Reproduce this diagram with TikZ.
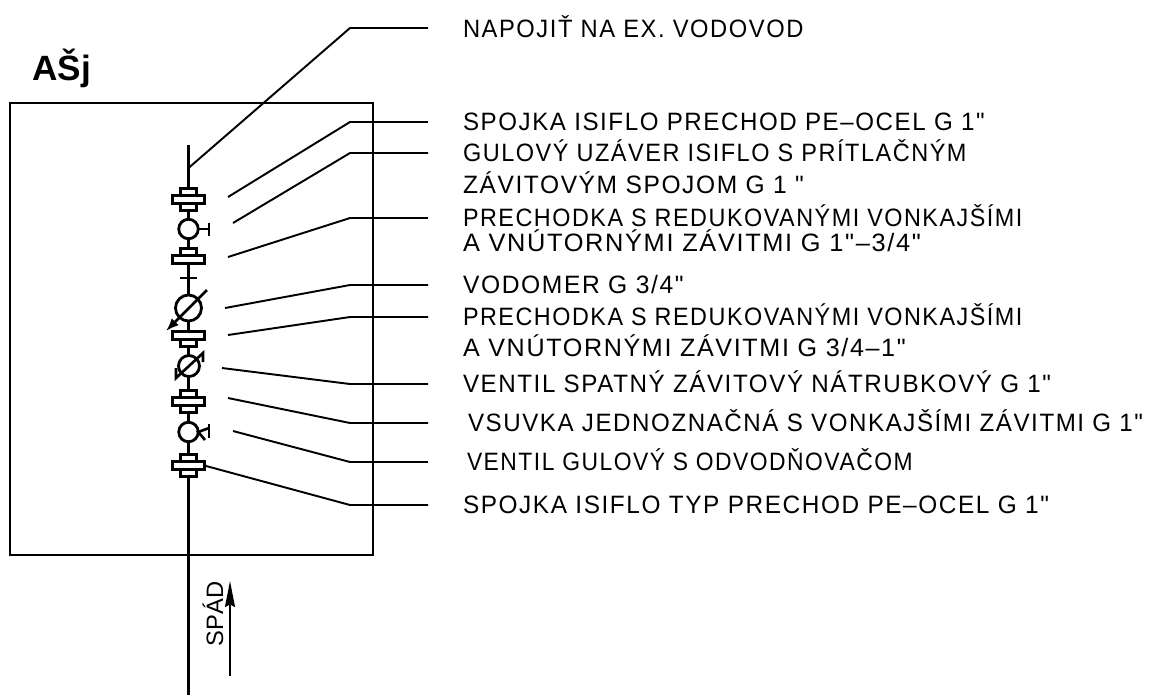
\documentclass[tikz,border=0pt]{standalone}
\usepackage{fontspec}
\usetikzlibrary{arrows.meta}
\setmainfont{Liberation Sans}
\newfontfamily\labelfont[LetterSpace=6.5]{Liberation Sans}
\tikzset{
  callout/.style={anchor=west,inner xsep=0.7cm,inner ysep=0pt,outer sep=0pt,text height=10.2pt,text depth=0pt,font=\labelfont\fontsize{14.3}{14.3}\selectfont},
  leader/.style={line width=1.1pt},
  pipe/.style={line width=1.5pt},
  flange/.style={draw,fill=white,line width=1.6pt,minimum width=0.63cm,minimum height=0.15cm,inner sep=0pt,outer sep=0pt},
  hub/.style={draw,fill=white,line width=1.6pt,minimum width=0.32cm,minimum height=0.15cm,inner sep=0pt,outer sep=0pt},
  ball/.style={draw,fill=white,circle,line width=1.6pt,minimum size=0.39cm,inner sep=0pt,outer sep=0pt},
}
\begin{document}
\begin{tikzpicture}[x=0.02cm,y=-0.02cm]
\useasboundingbox (0,0) rectangle (1151,697);
% building outline and title
\draw[line width=1pt] (10,103) rectangle (373,555);
\node[inner sep=0pt,anchor=base west,font=\bfseries\fontsize{20}{20}\selectfont] (title) at (32,80) {AŠj};
% pipe
\coordinate (pipetop) at (188.5,145);
\coordinate (pipeend) at (188.5,695);
\coordinate (pipejoin) at (188.5,168);
\draw[pipe] (pipetop) -- (pipeend);
% couplings
\node[hub] (hub1a) at (188.5,192.5) {};
\node[hub] (hub1b) at (188.5,206.5) {};
\node[flange] (flange1) at (188.5,199.5) {};
\node[hub] (hub2a) at (188.5,252.5) {};
\node[flange] (flange2) at (188.5,259.5) {};
\node[hub] (hub3b) at (188.5,342.5) {};
\node[flange] (flange3) at (188.5,335.5) {};
\node[hub] (hub4a) at (188.5,394.5) {};
\node[hub] (hub4b) at (188.5,408.5) {};
\node[flange] (flange4) at (188.5,401.5) {};
\node[hub] (hub5a) at (188.5,458.5) {};
\node[hub] (hub5b) at (188.5,472.5) {};
\node[flange] (flange5) at (188.5,465.5) {};
% ball valve with T handle
\node[ball] (valve1) at (188.5,229) {};
\coordinate (handle1) at (209,229);
\draw[pipe] (valve1.east) -- (handle1);
\draw[pipe] (209,223) -- (209,236);
% small cross bar
\draw[pipe] (180,278) -- (197,278);
% water meter
\node[ball,minimum size=0.52cm] (meter) at (188.5,308) {};
\coordinate (metertip) at (166,331);
\coordinate (meterend) at (207,290);
\draw[pipe,-{Latex[length=0.26cm,width=0.2cm]}] (meterend) -- (metertip);
% check valve
\node[ball,minimum size=0.42cm] (check) at (189,366) {};
\draw[pipe] (203,362) -- (203,353) -- (176,378) -- (176,368);
% ball valve with drain
\node[ball] (valve2) at (188.5,432) {};
\coordinate (handle2) at (209,428);
\coordinate (drain2) at (205,440);
\draw[pipe] (handle2) -- (valve2.east) -- (drain2);
\draw[pipe] (209,424) -- (209,438);
% flow arrow
\node[rotate=90,inner sep=0pt,font=\fontsize{13.5}{13.5}\selectfont] (spad) at (213,614) {SPÁD};
\coordinate (flowtail) at (230,676);
\coordinate (flowtip) at (230,581);
\draw[line width=1pt,-{Stealth[length=0.52cm,width=0.2cm,inset=0.05cm]}] (flowtail) -- (flowtip);
% labels
\node[callout] (napojit) at (428,29) {\scalebox{.945}[1]{NAPOJIŤ NA EX. VODOVOD}};
\node[callout] (spojka) at (428,122) {\scalebox{.96}[1]{SPOJKA ISIFLO PRECHOD PE–OCEL G 1"}};
\node[callout] (gulovy) at (428,153) {\scalebox{.935}[1]{GULOVÝ UZÁVER ISIFLO S PRÍTLAČNÝM}};
\node[callout] (zavit) at (428,185) {\scalebox{.977}[1]{ZÁVITOVÝM SPOJOM G 1 "}};
\node[callout] (prechodka) at (428,218) {\scalebox{.93}[1]{PRECHODKA S REDUKOVANÝMI VONKAJŠÍMI}};
\node[callout] (vnut) at (428,243) {\scalebox{1.01}[1]{A VNÚTORNÝMI ZÁVITMI G 1"–3/4"}};
\node[callout] (vodomer) at (428,285) {\scalebox{.98}[1]{VODOMER G 3/4"}};
\node[callout] (prechodkab) at (428,317) {\scalebox{.93}[1]{PRECHODKA S REDUKOVANÝMI VONKAJŠÍMI}};
\node[callout] (vnutb) at (428,348) {A VNÚTORNÝMI ZÁVITMI G 3/4–1"};
\node[callout] (spatny) at (428,384) {\scalebox{.962}[1]{VENTIL SPATNÝ ZÁVITOVÝ NÁTRUBKOVÝ G 1"}};
\node[callout] (vsuvka) at (433,423) {\scalebox{.96}[1]{VSUVKA JEDNOZNAČNÁ S VONKAJŠÍMI ZÁVITMI G 1"}};
\node[callout] (ventil) at (432,462) {\scalebox{.91}[1]{VENTIL GULOVÝ S ODVODŇOVAČOM}};
\node[callout] (spojkab) at (428,505) {\scalebox{.97}[1]{SPOJKA ISIFLO TYP PRECHOD PE–OCEL G 1"}};
% leaders
\coordinate (s1) at (228,197);
\coordinate (s2) at (233,223);
\coordinate (s3) at (228,257);
\coordinate (s4) at (225,308);
\coordinate (s5) at (228,335);
\coordinate (s6) at (222,368);
\coordinate (s7) at (228,398);
\coordinate (s8) at (233,431);
\draw[leader] (pipejoin) -- (350,28) -- (428,28);
\draw[leader] (s1) -- (350,122) -- (spojka.west);
\draw[leader] (s2) -- (350,153) -- (gulovy.west);
\draw[leader] (s3) -- (350,218) -- (prechodka.west);
\draw[leader] (s4) -- (350,285) -- (vodomer.west);
\draw[leader] (s5) -- (350,317) -- (prechodkab.west);
\draw[leader] (s6) -- (350,384) -- (spatny.west);
\draw[leader] (s7) -- (350,423) -- (428,423);
\draw[leader] (s8) -- (350,462) -- (428,462);
\draw[leader] (flange5.east) -- (350,505) -- (spojkab.west);
\end{tikzpicture}
\end{document}
